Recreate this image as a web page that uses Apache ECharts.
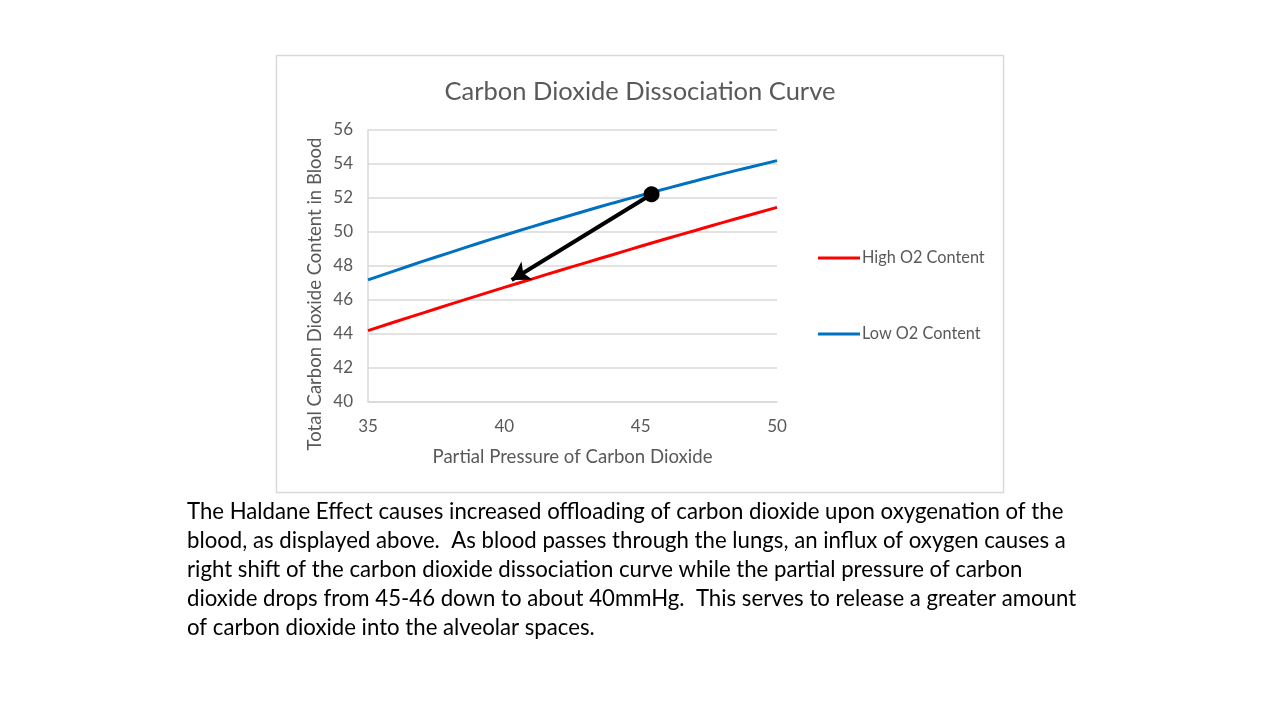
<!DOCTYPE html>
<html><head><meta charset="utf-8">
<script src="https://cdn.jsdelivr.net/npm/echarts@6/dist/echarts.min.js"></script>
<style>html,body{margin:0;padding:0;background:#fff;}#c{width:1280px;height:720px;}</style>
</head><body><div id="c"></div>
<script>
var pco2 = [35,36,37,38,39,40,41,42,43,44,45,46,47,48,49,50];
var highO2 = [44.2,44.72,45.23,45.74,46.24,46.74,47.23,47.72,48.2,48.68,49.16,49.63,50.09,50.55,51.0,51.45];
var lowO2 = [47.18,47.73,48.27,48.79,49.31,49.81,50.3,50.78,51.25,51.71,52.15,52.58,53.0,53.42,53.81,54.2];
var arrowStart = [45.4, 52.22];
var arrowEnd = [40.27, 47.18];
var xTicks = {min:35, max:50, step:5};
var yTicks = {min:40, max:56, step:2};
var paragraph = [
 "The Haldane Effect causes increased offloading of carbon dioxide upon oxygenation of the",
 "blood, as displayed above.  As blood passes through the lungs, an influx of oxygen causes a",
 "right shift of the carbon dioxide dissociation curve while the partial pressure of carbon",
 "dioxide drops from 45-46 down to about 40mmHg.  This serves to release a greater amount",
 "of carbon dioxide into the alveolar spaces."
];
var FONT = "Lato, 'Open Sans', sans-serif";
var chart = echarts.init(document.getElementById('c'));
var gray = '#595959';
var graphics = [
  {type:'rect', shape:{x:276.5,y:55.5,width:727,height:437}, style:{fill:'none', stroke:'#d9d9d9', lineWidth:1.5}, z:-10},
  {type:'text', x:315, y:294, rotation:Math.PI/2, style:{text:'Total Carbon Dioxide Content in Blood', font:'18.5px '+FONT, fill:gray, align:'center', verticalAlign:'middle'}}
];
paragraph.forEach(function(line,i){
  graphics.push({type:'text', left:187, top:501+i*29, style:{text:line, font:'22.2px '+FONT, fill:'#000'}});
});
chart.setOption({
  animation:false,
  title:{text:'Carbon Dioxide Dissociation Curve', left:'center', top:74, textStyle:{fontFamily:FONT, fontSize:25.5, fontWeight:'normal', color:gray}},
  grid:{left:368, right:503, top:130, bottom:318, containLabel:false},
  legend:{orient:'vertical', left:818, top:250, padding:0, itemGap:60, itemWidth:42, itemHeight:3, icon:'rect',
    textStyle:{fontFamily:FONT, fontSize:16.3, color:gray, padding:[0,0,0,-3]},
    data:['High O2 Content','Low O2 Content']},
  xAxis:{type:'value', min:xTicks.min, max:xTicks.max, interval:xTicks.step,
    axisLine:{show:true, lineStyle:{color:'#d9d9d9', width:1.5}}, axisTick:{show:false},
    splitLine:{show:false},
    axisLabel:{fontFamily:FONT, fontSize:17, color:gray, margin:16},
    name:'Partial Pressure of Carbon Dioxide', nameLocation:'middle', nameGap:45,
    nameTextStyle:{fontFamily:FONT, fontSize:18.6, color:gray}},
  yAxis:{type:'value', min:yTicks.min, max:yTicks.max, interval:yTicks.step,
    axisLine:{show:true, lineStyle:{color:'#d9d9d9', width:1.5}}, axisTick:{show:false},
    splitLine:{show:true, lineStyle:{color:'#d9d9d9', width:1.5}},
    axisLabel:{fontFamily:FONT, fontSize:17, color:gray, margin:15}},
  graphic:graphics,
  series:[
    {name:'High O2 Content', type:'line', smooth:true, symbol:'none', showSymbol:false,
      lineStyle:{color:'#ff0000', width:3}, itemStyle:{color:'#ff0000'},
      data:pco2.map(function(x,i){return [x, highO2[i]];})},
    {name:'Low O2 Content', type:'line', smooth:true, symbol:'none', showSymbol:false,
      lineStyle:{color:'#0070c0', width:3}, itemStyle:{color:'#0070c0'},
      data:pco2.map(function(x,i){return [x, lowO2[i]];}),
      markLine:{silent:true, symbol:['circle','arrow'], symbolSize:[16,18], label:{show:false},
        lineStyle:{color:'#000', width:4, type:'solid'}, itemStyle:{color:'#000'},
        data:[[{coord:arrowStart},{coord:arrowEnd}]]}}
  ]
});
</script></body></html>
